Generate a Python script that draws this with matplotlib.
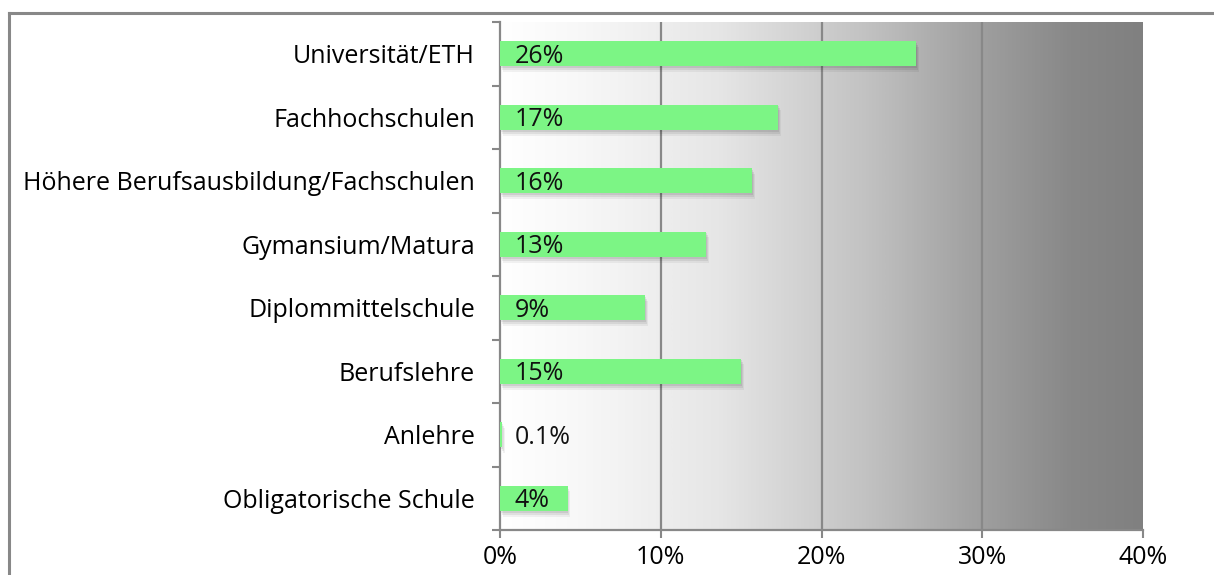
import numpy as np
import matplotlib
matplotlib.use("Agg")
import matplotlib.pyplot as plt
from matplotlib.colors import LinearSegmentedColormap
from matplotlib.lines import Line2D

plt.rcParams['font.family'] = ['Open Sans', 'DejaVu Sans']

# data (top to bottom as shown)
categories = ["Universität/ETH", "Fachhochschulen", "Höhere Berufsausbildung/Fachschulen",
              "Gymansium/Matura", "Diplommittelschule", "Berufslehre", "Anlehre",
              "Obligatorische Schule"]
values = [25.9, 17.3, 15.7, 12.8, 9.0, 15.0, 0.1, 4.2]
value_labels = ["26%", "17%", "16%", "13%", "9%", "15%", "0.1%", "4%"]
xticks = [0, 10, 20, 30, 40]
xtick_labels = ["0%", "10%", "20%", "30%", "40%"]

fig = plt.figure(figsize=(12.14, 5.75), dpi=100)
ax = fig.add_axes([500/1214, 1-530/575, 643/1214, 508/575])

n = len(categories)
y = np.arange(n)[::-1]

# gradient background white -> gray
grad_cmap = LinearSegmentedColormap.from_list(
    "bg", [(0.0, "#ffffff"), (0.12, "#f8f8f8"), (0.34, "#e6e6e6"), (0.57, "#c2c2c2"),
           (0.73, "#a2a2a2"), (0.89, "#888888"), (1.0, "#808080")])
grad = np.linspace(0, 1, 512).reshape(1, -1)
ax.imshow(grad, cmap=grad_cmap, aspect="auto", extent=[0, 40, -0.5, n - 0.5],
          zorder=0, interpolation="bilinear")

# gridlines
for t in xticks[1:-1]:
    ax.axvline(t, color="#888888", lw=1.6, zorder=1)

# soft shadows + bars
for off, a in [(0.09, 0.05), (0.06, 0.07), (0.03, 0.08)]:
    ax.barh(y - off, values, height=0.4, left=off * 2, color="black", alpha=a, zorder=2)
ax.barh(y, values, height=0.4, color="#7cf585", zorder=3)

for yi, v, lab in zip(y, values, value_labels):
    ax.text(0.9, yi - 0.04, lab, va="center", ha="left", fontsize=18, color="#111111", zorder=4)

ax.set_xlim(0, 40)
ax.set_ylim(-0.5, n - 0.5)
ax.set_xticks(xticks)
ax.set_xticklabels(xtick_labels, fontsize=18)
ax.set_yticks(y)
ax.set_yticklabels(categories, fontsize=18)
ax.tick_params(axis="y", which="major", length=0, pad=18)
ax.set_yticks(np.arange(-0.5, n, 1), minor=True)
ax.tick_params(axis="y", which="minor", length=6, width=1.5, color="#888888", direction="out")
ax.tick_params(axis="x", length=6, width=1.5, color="#888888", direction="out", pad=5)

for side in ["top", "right"]:
    ax.spines[side].set_visible(False)
for side in ["left", "bottom"]:
    ax.spines[side].set_color("#888888")
    ax.spines[side].set_linewidth(1.6)

# outer frame (top and left)
fig.add_artist(Line2D([9/1214, 1.0], [1-13/575, 1-13/575], color="#888888", lw=2.2,
                      transform=fig.transFigure))
fig.add_artist(Line2D([9/1214, 9/1214], [0, 1-13/575], color="#888888", lw=2.2,
                      transform=fig.transFigure))

fig.savefig("out.png", dpi=100)
